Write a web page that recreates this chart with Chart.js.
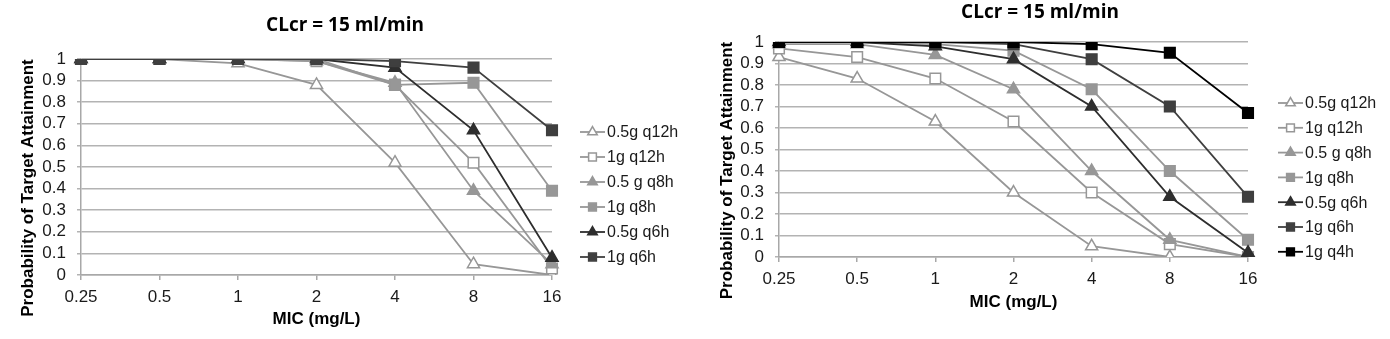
<!DOCTYPE html>
<html lang="en">
<head>
<meta charset="UTF-8">
<title>Probability of Target Attainment - CLcr = 15 ml/min</title>
<script src="https://cdn.jsdelivr.net/npm/chart.js"></script>
<style>
    body { margin: 0; background: #fff; }
    .panel { position: absolute; top: 0; height: 339px; }
    #panelA { left: 0; width: 690px; }
    #panelB { left: 690px; width: 700px; }
</style>
</head>
<body>
<div class="panel" id="panelA"><canvas id="chartA" width="690" height="339"></canvas></div>
<div class="panel" id="panelB"><canvas id="chartB" width="700" height="339"></canvas></div>
<script>
    // MIC categories and y tick labels
    const micLabels = ['0.25', '0.5', '1', '2', '4', '8', '16'];
    const yTickLabels = ['0', '0.1', '0.2', '0.3', '0.4', '0.5', '0.6', '0.7', '0.8', '0.9', '1'];
    const regimenNames = ['0.5g q12h', '1g q12h', '0.5 g q8h', '1g q8h', '0.5g q6h', '1g q6h', '1g q4h'];
    const chartTitle = 'CLcr = 15 ml/min';
    const xTitle = 'MIC (mg/L)';
    const yTitle = 'Probability of Target Attainment';

    // left panel
    const a_05g_q12h = [1, 1, 0.98, 0.88, 0.52, 0.05, 0];
    const a_1g_q12h  = [1, 1, 1, 0.99, 0.88, 0.52, 0.03];
    const a_05g_q8h  = [1, 1, 1, 0.99, 0.89, 0.39, 0.05];
    const a_1g_q8h   = [1, 1, 1, 1, 0.88, 0.89, 0.39];
    const a_05g_q6h  = [1, 1, 1, 1, 0.96, 0.67, 0.08];
    const a_1g_q6h   = [1, 1, 1, 1, 0.99, 0.96, 0.67];

    // right panel
    const b_05g_q12h = [0.93, 0.83, 0.63, 0.30, 0.05, 0, 0];
    const b_1g_q12h  = [0.97, 0.93, 0.83, 0.63, 0.30, 0.06, 0];
    const b_05g_q8h  = [0.99, 0.99, 0.94, 0.78, 0.40, 0.08, 0];
    const b_1g_q8h   = [1, 1, 0.99, 0.96, 0.78, 0.40, 0.08];
    const b_05g_q6h  = [1, 1, 0.98, 0.92, 0.70, 0.28, 0.02];
    const b_1g_q6h   = [1, 1, 1, 0.99, 0.92, 0.70, 0.28];
    const b_1g_q4h   = [1, 1, 1, 1, 0.99, 0.95, 0.67];

    const GRAY = '#979797';
    const seriesStyles = [
        { color: GRAY, shape: 'triangle', fill: '#fff' },
        { color: GRAY, shape: 'rect', fill: '#fff' },
        { color: GRAY, shape: 'triangle', fill: GRAY },
        { color: GRAY, shape: 'rect', fill: GRAY },
        { color: '#2e2e2e', shape: 'triangle', fill: '#2e2e2e' },
        { color: '#3f3f3f', shape: 'rect', fill: '#3f3f3f' },
        { color: '#000', shape: 'rect', fill: '#000' }
    ];

    function drawMarker(ctx, shape, x, y, r, fill, stroke) {
        ctx.beginPath();
        if (shape === 'triangle') {
            ctx.moveTo(x, y - r);
            ctx.lineTo(x + Math.sin(2 * Math.PI / 3) * r, y + r / 2);
            ctx.lineTo(x - Math.sin(2 * Math.PI / 3) * r, y + r / 2);
            ctx.closePath();
        } else {
            const s = r * Math.SQRT1_2;
            ctx.rect(x - s, y - s, 2 * s, 2 * s);
        }
        ctx.fillStyle = fill;
        ctx.fill();
        ctx.strokeStyle = stroke;
        ctx.lineWidth = 1.5;
        ctx.stroke();
    }

    // title, rotated y title and the legend on the right
    const decorPlugin = {
        id: 'decor',
        afterDraw(chart, args, opts) {
            const ctx = chart.ctx;
            const area = chart.chartArea;
            ctx.save();
            ctx.fillStyle = '#000';
            ctx.textAlign = 'center';
            ctx.textBaseline = 'middle';
            ctx.font = 'bold 19px "Open Sans"';
            ctx.fillText(chartTitle, chart.width / 2, opts.titleY);

            ctx.save();
            ctx.translate(opts.yTitleX, (area.top + area.bottom) / 2 + 21);
            ctx.rotate(-Math.PI / 2);
            ctx.font = 'bold 17px "Liberation Sans"';
            ctx.fillText(yTitle, 0, 0);
            ctx.restore();

            ctx.font = '16px "Liberation Sans"';
            ctx.textAlign = 'left';
            chart.data.datasets.forEach((ds, i) => {
                const y = opts.legendTop + i * opts.legendStep;
                const x0 = opts.legendX;
                ctx.strokeStyle = ds.borderColor;
                ctx.lineWidth = ds.borderWidth;
                ctx.beginPath();
                ctx.moveTo(x0, y);
                ctx.lineTo(x0 + 25, y);
                ctx.stroke();
                drawMarker(ctx, ds.pointStyle, x0 + 12.5, y, 5.5, ds.pointBackgroundColor, ds.pointBorderColor);
                ctx.fillStyle = '#1a1a1a';
                ctx.fillText(ds.label, x0 + 27, y + 1);
            });
            ctx.restore();
        }
    };

    function makeChart(id, series, L) {
        const n = series.length;
        const datasets = series.map((values, i) => {
            const st = seriesStyles[i];
            return {
                label: regimenNames[i],
                data: values,
                borderColor: st.color,
                borderWidth: 1.8,
                pointStyle: st.shape,
                pointRadius: st.shape === 'triangle' ? 7 : 7.5,
                pointBackgroundColor: st.fill,
                pointBorderColor: st.color,
                pointBorderWidth: 1.5,
                order: n - i,
                tension: 0
            };
        });
        return new Chart(document.getElementById(id), {
            type: 'line',
            data: { labels: micLabels, datasets: datasets },
            plugins: [decorPlugin],
            options: {
                responsive: false,
                animation: false,
                layout: { padding: { top: L.top, right: L.right, left: 0, bottom: 0 } },
                plugins: {
                    legend: { display: false },
                    tooltip: { enabled: false },
                    decor: L.decor
                },
                scales: {
                    x: {
                        type: 'category',
                        offset: false,
                        grid: { drawOnChartArea: false, drawTicks: true, tickLength: 5, color: '#a8a8a8', lineWidth: 1.5 },
                        border: { display: true, color: '#a8a8a8', width: 1.5 },
                        ticks: { color: '#1a1a1a', font: { family: 'Liberation Sans', size: 17 }, padding: 7, maxRotation: 0, autoSkip: false },
                        title: {
                            display: true, text: xTitle, color: '#000',
                            font: { family: 'Liberation Sans', size: 17, weight: 'bold' },
                            padding: { top: 0, bottom: L.xTitlePad }
                        },
                        afterFit(scale) { scale.height = L.xAxisH; }
                    },
                    y: {
                        min: 0, max: 1,
                        ticks: {
                            stepSize: 0.1, color: '#1a1a1a', padding: 11, autoSkip: false,
                            font: { family: 'Liberation Sans', size: 17 },
                            callback: (v, i) => yTickLabels[i]
                        },
                        grid: { color: '#b3b3b3', lineWidth: 1.5, tickLength: 4 },
                        border: { display: true, color: '#a8a8a8', width: 1.5 },
                        afterFit(scale) { scale.width = L.yAxisW; }
                    }
                }
            }
        });
    }

    makeChart('chartA', [a_05g_q12h, a_1g_q12h, a_05g_q8h, a_1g_q8h, a_05g_q6h, a_1g_q6h], {
        top: 59, right: 138, yAxisW: 81, xAxisH: 64, xTitlePad: 9,
        decor: { titleY: 26, yTitleX: 28, legendX: 580, legendTop: 132, legendStep: 25 }
    });

    makeChart('chartB', [b_05g_q12h, b_1g_q12h, b_05g_q8h, b_1g_q8h, b_05g_q6h, b_1g_q6h, b_1g_q4h], {
        top: 42, right: 142, yAxisW: 89, xAxisH: 82, xTitlePad: 26,
        decor: { titleY: 13, yTitleX: 37, legendX: 588, legendTop: 103, legendStep: 24.8 }
    });
</script>
</body>
</html>
